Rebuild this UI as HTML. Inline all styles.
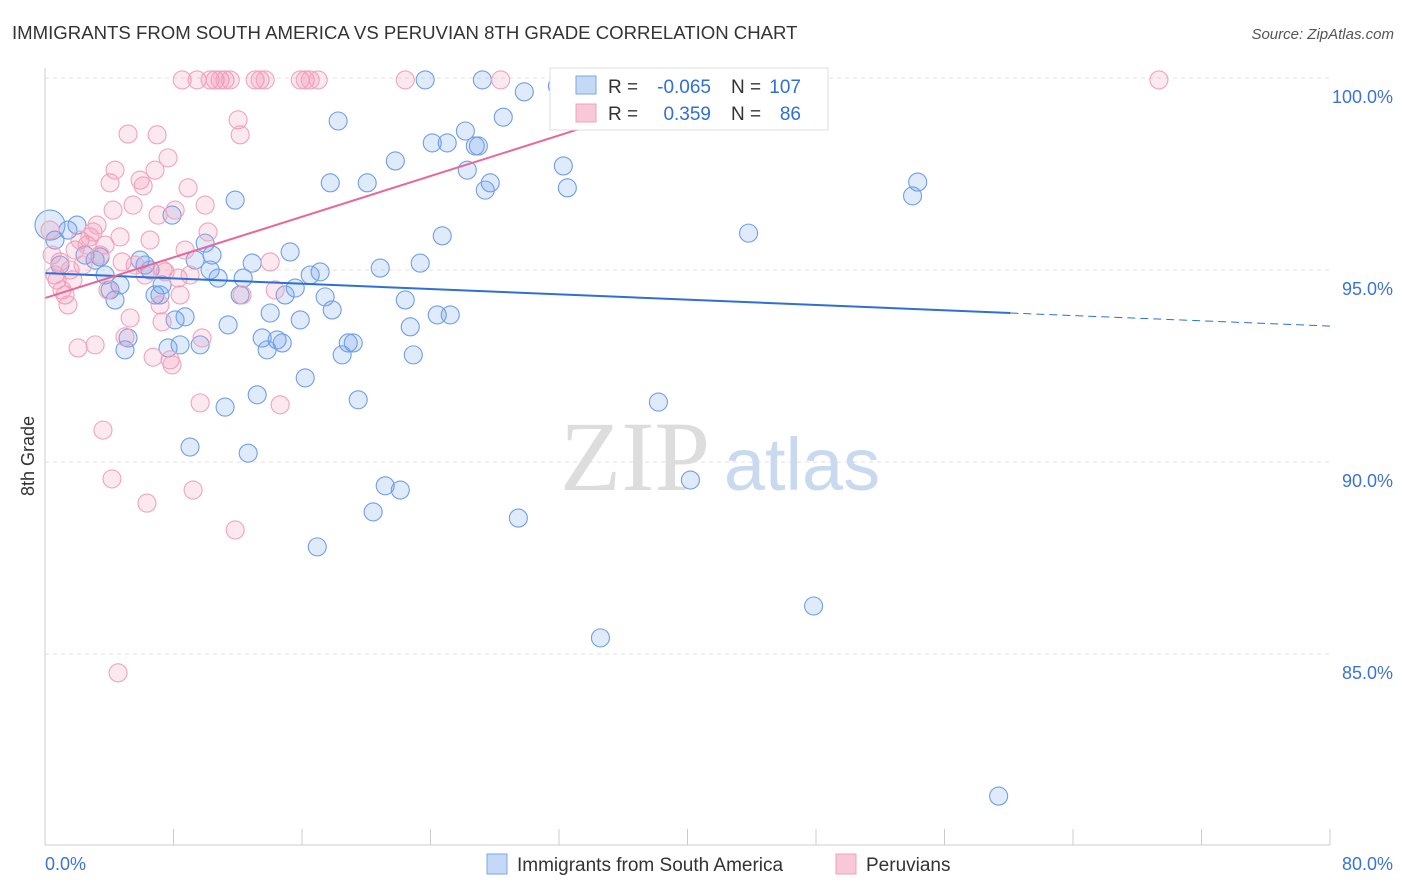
<!DOCTYPE html>
<html><head><meta charset="utf-8"><style>
body{margin:0;background:#fff;font-family:"Liberation Sans",sans-serif}
svg{display:block}
</style></head><body>
<svg id="chart" width="1406" height="892" viewBox="0 0 1406 892" xmlns="http://www.w3.org/2000/svg">
<text x="12" y="39" font-size="18.6" fill="#333" font-family="Liberation Sans, sans-serif">IMMIGRANTS FROM SOUTH AMERICA VS PERUVIAN 8TH GRADE CORRELATION CHART</text>
<text x="1394" y="39" font-size="15" fill="#555" text-anchor="end" font-style="italic">Source: ZipAtlas.com</text>
<g id="grid"></g>
<g id="watermark">
<text x="635" y="490" font-size="100" fill="#ddd" font-family="Liberation Serif, serif" text-anchor="middle">ZIP</text>
<text x="802" y="490" font-size="74" fill="#c9daf0" text-anchor="middle">atlas</text>
</g>
<g id="points"></g>
<g id="trends"></g>
<g id="axes"></g>
<g>
<rect x="550" y="68" width="278" height="62" fill="#fff" stroke="#ddd"/>
<rect x="576" y="76" width="20" height="18" fill="#c5d8f5" stroke="#7aa7e8"/>
<rect x="576" y="104" width="20" height="18" fill="#f8c8d8" stroke="#f0a0bd"/>
<text x="608" y="93" font-size="19" fill="#333">R =</text>
<text x="711" y="93" font-size="19" fill="#2f6fd6" text-anchor="end">-0.065</text>
<text x="731" y="93" font-size="19" fill="#333">N =</text>
<text x="801" y="93" font-size="19" fill="#2f6fd6" text-anchor="end">107</text>
<text x="608" y="120" font-size="19" fill="#333">R =</text>
<text x="711" y="120" font-size="19" fill="#2f6fd6" text-anchor="end">0.359</text>
<text x="731" y="120" font-size="19" fill="#333">N =</text>
<text x="801" y="120" font-size="19" fill="#2f6fd6" text-anchor="end">86</text>
</g>
<g>
<rect x="487" y="854" width="20" height="20" fill="#c5d8f5" stroke="#7aa7e8"/>
<text x="517" y="871" font-size="19" fill="#333">Immigrants from South America</text>
<rect x="836" y="854" width="20" height="20" fill="#f8c8d8" stroke="#f0a0bd"/>
<text x="866" y="871" font-size="19" fill="#333">Peruvians</text>
</g>
<text transform="translate(34,456) rotate(-90)" font-size="18" fill="#333" text-anchor="middle">8th Grade</text>
</svg>
<script>
const yTicks=[100,95,90,85];
const yTickLabels=["100.0%","95.0%","90.0%","85.0%"];
const xTickLabels=["0.0%","80.0%"];
const blueX=[.31,.62,1.43,1.99,.93,2.49,3.12,3.43,3.74,4.36,4.05,4.67,4.98,5.17,5.92,6.23,6.54,6.85,7.16,7.29,7.66,7.91,8.10,8.41,8.72,9.03,9.35,9.66,9.97,10.28,10.40,10.78,11.21,11.40,11.84,12.15,12.34,12.65,12.90,13.21,13.52,13.83,14.02,14.45,14.77,14.95,15.26,15.58,15.89,16.20,16.51,16.95,17.13,17.44,17.88,18.25,17.76,18.50,18.88,19.19,19.50,20.06,20.43,20.87,21.18,21.81,22.12,22.43,22.74,22.93,23.36,23.67,24.11,24.42,24.73,25.04,25.23,26.17,26.29,26.79,26.98,27.41,27.72,27.23,28.53,29.47,29.84,31.90,32.27,32.52,33.64,34.58,35.39,36.63,38.19,40.18,43.80,47.85,54.01,54.33,59.37];
const blueY=[96.17,95.78,96.04,96.17,95.13,95.39,95.26,95.34,94.87,94.22,94.48,94.61,92.92,93.23,95.26,95.13,95.00,94.35,94.35,94.61,92.97,96.43,93.70,93.05,93.78,90.39,95.26,93.05,95.70,95.00,95.39,94.79,91.43,93.57,96.82,94.35,94.79,90.23,95.18,91.75,93.23,92.92,93.88,93.18,93.10,94.35,95.47,94.53,93.70,92.19,94.87,87.79,94.95,94.30,93.96,98.88,97.27,92.79,93.10,93.10,91.62,97.27,88.70,95.05,89.38,97.84,89.27,94.22,93.52,92.79,95.18,99.95,98.31,93.83,95.89,98.31,93.83,98.62,97.60,98.23,98.23,97.08,97.27,99.95,98.98,88.54,99.64,99.79,97.71,97.14,99.56,85.42,99.95,99.53,91.56,89.53,95.96,86.25,96.93,97.29,81.30];
const pinkX=[.31,.44,.62,.75,.93,1.06,1.25,1.43,1.56,1.74,1.87,2.06,2.18,2.37,2.62,2.80,2.99,3.12,3.24,3.43,3.61,3.74,3.92,4.05,4.17,4.24,4.36,4.55,4.67,4.80,4.98,5.17,5.30,5.48,5.61,5.92,6.11,6.23,6.35,6.54,6.73,6.85,6.98,7.04,7.16,7.29,7.35,7.48,7.66,7.79,7.91,8.10,8.29,8.41,8.54,8.72,8.91,9.03,9.22,9.47,9.66,9.78,9.97,10.15,10.28,10.59,10.90,11.21,11.53,11.84,12.02,12.15,12.27,13.08,13.39,13.71,14.02,14.33,14.64,15.89,16.20,16.51,17.01,22.43,28.37,69.35];
const pinkY=[96.04,95.39,94.87,94.74,95.21,94.48,94.35,94.09,95.00,94.74,95.52,92.97,95.78,95.13,95.65,95.86,95.99,93.05,96.17,95.39,90.83,95.65,94.48,97.27,89.56,96.56,97.60,84.51,95.86,95.21,93.26,98.54,93.75,96.69,95.13,97.34,97.19,94.87,88.93,95.78,92.73,97.60,98.52,96.43,94.09,93.65,95.00,94.95,97.92,92.66,92.53,96.56,94.79,94.35,99.95,95.52,97.14,94.87,89.27,99.95,91.54,93.23,96.69,95.99,99.95,99.95,99.95,99.95,99.95,88.23,98.91,98.52,94.35,99.95,99.95,99.95,95.21,94.48,91.49,99.95,99.95,99.95,99.95,99.95,99.95,99.95];
const blueTrend=[[0,94.92],[60.1,93.88]];
const blueTrendDash=[[60.1,93.88],[80,93.54]];
const pinkTrend=[[0,94.27],[43.3,100]];

const NS="http://www.w3.org/2000/svg";
const X=v=>45+v*16.0625;
const Y=v=>78+(100-v)*38.4;
function mk(tag,attrs,parent){const e=document.createElementNS(NS,tag);for(const k in attrs)e.setAttribute(k,attrs[k]);parent.appendChild(e);return e;}
const grid=document.getElementById('grid'),axes=document.getElementById('axes'),pts=document.getElementById('points'),tr=document.getElementById('trends');
yTicks.forEach((t,i)=>{
  const l=mk('line',{x1:45,x2:1330,y1:Y(t),y2:Y(t),stroke:'#e2e2e2','stroke-dasharray':'4 4'},grid);
  
  
  const tx=mk('text',{x:1393,y:Y(t)+25,'font-size':18,fill:'#3b74d6','text-anchor':'end'},axes);
  tx.textContent=yTickLabels[i];
  
  
});
const ax=mk('line',{x1:45,x2:45,y1:68,y2:845,stroke:'#ccc'},axes);


const bx=mk('line',{x1:45,x2:1330,y1:845,y2:845,stroke:'#ccc'},axes);


for(let v=0;v<=80;v+=8){
  const t=mk('line',{x1:X(v),x2:X(v),y1:829,y2:845,stroke:'#ccc'},axes);
  
  
}
const xl0=mk('text',{x:45,y:870,'font-size':18,fill:'#3b74d6'},axes);xl0.textContent=xTickLabels[0];


const xl1=mk('text',{x:1393,y:870,'font-size':18,fill:'#3b74d6','text-anchor':'end'},axes);xl1.textContent=xTickLabels[1];


blueX.forEach((x,i)=>{
  const c=mk('circle',{cx:X(x),cy:Y(blueY[i]),r:i===0?15:9,fill:'rgba(110,160,235,0.22)',stroke:'#6f9fe6','stroke-width':1.1},pts);
  
  
});
pinkX.forEach((x,i)=>{
  const c=mk('circle',{cx:X(x),cy:Y(pinkY[i]),r:9,fill:'rgba(240,140,175,0.2)',stroke:'#f0a3bf','stroke-width':1.1},pts);
  
  
});
const b1=mk('line',{x1:X(blueTrend[0][0]),y1:Y(blueTrend[0][1]),x2:X(blueTrend[1][0]),y2:Y(blueTrend[1][1]),stroke:'#2f6fd6','stroke-width':2},tr);


const b2=mk('line',{x1:X(blueTrendDash[0][0]),y1:Y(blueTrendDash[0][1]),x2:X(blueTrendDash[1][0]),y2:Y(blueTrendDash[1][1]),stroke:'#2f6fd6','stroke-width':1,'stroke-dasharray':'8 5'},tr);


const p1=mk('line',{x1:X(pinkTrend[0][0]),y1:Y(pinkTrend[0][1]),x2:X(pinkTrend[1][0]),y2:Y(pinkTrend[1][1]),stroke:'#e8679a','stroke-width':2},tr);


</script>
</body></html>
